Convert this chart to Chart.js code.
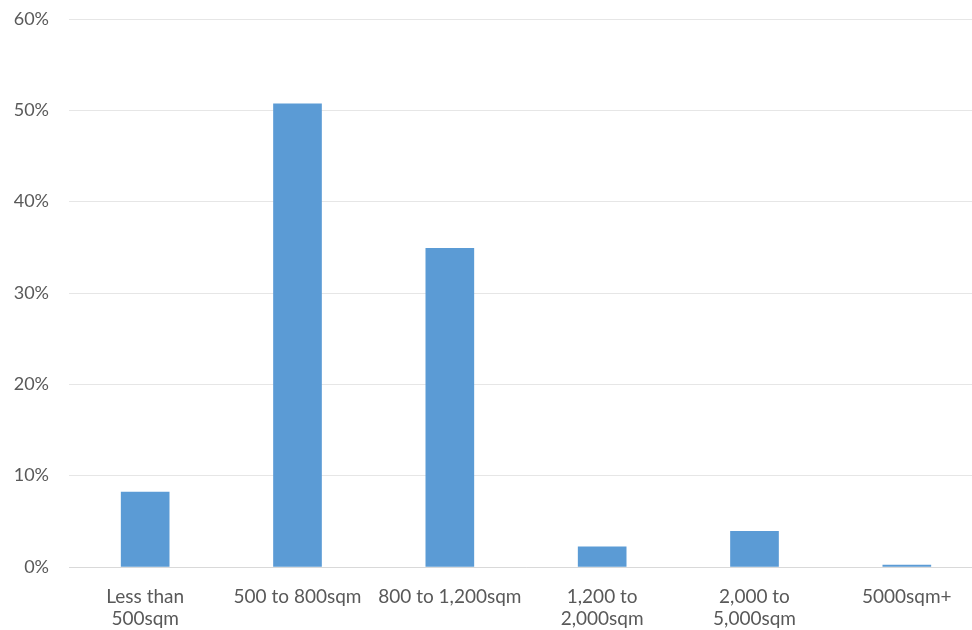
<!DOCTYPE html>
<html>
<head>
<meta charset="utf-8">
<script src="https://cdn.jsdelivr.net/npm/chart.js@4/dist/chart.umd.min.js"></script>
<style>
  html, body { margin: 0; padding: 0; background: #fff; overflow: hidden; }
  #wrap { width: 990px; height: 630px; }
</style>
</head>
<body>
<div id="wrap"><canvas id="chart"></canvas></div>
<script>
const categories = [
  ["Less than", "500sqm"],
  "500 to 800sqm",
  "800 to 1,200sqm",
  ["1,200 to", "2,000sqm"],
  ["2,000 to", "5,000sqm"],
  "5000sqm+"
];
const shares = [8.2, 50.7, 34.9, 2.2, 3.9, 0.2];
const yTicks = [0, 10, 20, 30, 40, 50, 60];

const ctx = document.getElementById("chart").getContext("2d");
new Chart(ctx, {
  type: "bar",
  data: {
    labels: categories,
    datasets: [{
      data: shares,
      backgroundColor: "#5b9bd5",
      barThickness: 48
    }]
  },
  options: {
    responsive: true,
    maintainAspectRatio: false,
    animation: false,
    layout: { padding: { top: 19, right: 7 } },
    plugins: { legend: { display: false }, tooltip: { enabled: false } },
    scales: {
      x: {
        grid: { display: false },
        border: { color: "#d9d9d9" },
        ticks: {
          color: "#595959",
          font: { family: "Lato", size: 19, lineHeight: 1.2 },
          padding: 10,
          maxRotation: 0,
          autoSkip: false
        },
        afterFit: scale => { scale.height = 63; }
      },
      y: {
        min: 0,
        max: 60,
        afterBuildTicks: scale => { scale.ticks = yTicks.map(v => ({ value: v })); },
        grid: { color: "#e6e6e6", tickLength: 20, tickColor: "rgba(0,0,0,0)" },
        border: { display: false },
        ticks: {
          color: "#595959",
          font: { family: "Lato", size: 18 },
          padding: 0,
          callback: v => v + "%"
        },
        afterFit: scale => { scale.width = 69; }
      }
    }
  }
});
</script>
</body>
</html>
